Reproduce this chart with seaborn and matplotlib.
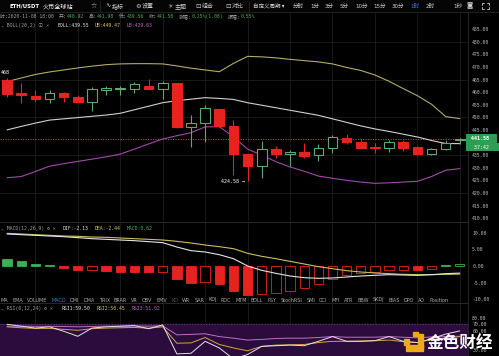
"""
ETH/USDT 1h candlestick screenshot with BOLL, MACD and RSI panels
"""

import numpy as np
import pandas as pd
import matplotlib
matplotlib.use('Agg')
import matplotlib.pyplot as plt
from matplotlib.patches import Rectangle
from matplotlib.transforms import blended_transform_factory
import seaborn as sns

# ---- data ----
opens = [464.8, 459.5, 458.6, 457.1, 459.5, 458.1, 456.1, 461.0, 461.3, 461.4, 462.5,
         461.1, 463.5, 446.3, 447.6, 453.3, 446.7, 435.3, 430.7, 437.3, 435.3, 436.3,
         435.0, 437.7, 441.7, 440.1, 438.3, 437.7, 440.3, 438.1, 435.3, 437.3, 440.92]
highs = [465.5, 463.5, 460.8, 460.8, 460.2, 459.0, 462.1, 462.5, 462.4, 464.1, 465.2,
         464.6, 463.5, 450.9, 454.9, 453.5, 448.9, 435.5, 440.5, 438.5, 437.0, 440.0,
         439.5, 443.0, 443.5, 441.2, 439.7, 440.9, 440.9, 438.6, 438.0, 440.9, 441.98]
lows = [458.2, 455.5, 456.2, 455.8, 456.0, 456.0, 452.5, 458.8, 458.8, 459.5, 461.2,
        457.4, 445.8, 438.3, 440.3, 446.0, 427.1, 424.58, 426.0, 433.7, 430.7, 434.0,
        432.5, 435.7, 439.6, 437.7, 435.7, 436.3, 436.8, 435.0, 435.0, 437.0, 439.56]
closes = [459.2, 458.8, 457.4, 459.8, 457.9, 456.1, 461.4, 461.6, 461.7, 463.2, 461.2,
          463.5, 446.3, 447.6, 453.6, 446.5, 435.3, 430.7, 437.3, 435.3, 436.3, 434.6,
          437.9, 442.0, 440.3, 437.7, 437.9, 440.3, 437.7, 435.3, 437.4, 439.9, 441.58]

boll_up = [464.2, 465.6, 467.0, 468.0, 468.8, 469.6, 470.3, 470.9, 471.2, 471.3, 471.3,
           471.2, 470.4, 469.5, 468.8, 468.1, 471.4, 474.2, 474.0, 473.6, 473.0, 472.5,
           472.0, 471.2, 469.8, 468.6, 466.8, 464.3, 461.4, 458.6, 455.2, 450.3, 449.47]
boll_mid = [445.0, 446.4, 447.7, 448.9, 449.4, 449.9, 450.4, 450.9, 451.6, 453.0, 454.4,
            455.8, 456.6, 457.2, 457.8, 457.5, 457.1, 455.8, 454.8, 453.8, 452.8, 451.8,
            450.8, 449.4, 448.0, 446.6, 445.4, 444.4, 443.3, 442.2, 440.8, 439.6, 439.55]
boll_low = [426.0, 426.5, 428.5, 430.6, 431.6, 432.5, 433.4, 434.3, 435.4, 437.4, 439.4,
            441.4, 442.7, 443.9, 446.2, 446.3, 442.3, 437.4, 435.0, 432.4, 430.3, 428.6,
            426.7, 425.8, 425.0, 424.3, 423.8, 424.0, 424.3, 424.6, 426.5, 429.0, 429.63]

dif = [9.6, 9.4, 9.2, 9.0, 8.8, 8.5, 8.2, 8.0, 7.8, 7.6, 7.3, 7.0, 5.7, 4.6, 4.2, 3.4,
       2.2, 0.0, -1.3, -2.2, -3.0, -3.5, -3.7, -3.6, -3.3, -3.0, -2.8, -2.6, -2.7, -2.8,
       -2.6, -2.3, -2.13]
dea = [9.8, 9.6, 9.4, 9.2, 9.0, 8.9, 8.7, 8.6, 8.4, 8.2, 8.0, 7.8, 7.4, 6.9, 6.3, 5.8,
       5.2, 3.8, 2.9, 2.2, 1.4, 0.6, -0.2, -0.8, -1.4, -1.8, -2.1, -2.3, -2.5, -2.6,
       -2.6, -2.5, -2.44]
macd_hist = [2.1, 1.4, 0.7, 0.3, -0.5, -1.2, -1.2, -1.4, -1.7, -1.7, -1.9, -1.7, -4.0,
             -5.2, -4.9, -5.5, -7.4, -8.7, -8.4, -8.0, -7.4, -6.7, -5.4, -4.0, -2.7,
             -2.0, -1.7, -1.2, -1.2, -1.2, -1.0, 0.2, 0.62]
macd_hollow = [0, 0, 0, 0, 0, 0, 1, 0, 0, 0, 0, 1, 0, 0, 1, 0, 0, 0, 1, 1, 1, 1, 1, 1,
               1, 1, 1, 1, 1, 0, 1, 0, 1]

rsi1 = [70, 67, 64, 66, 59, 51, 64, 66, 67, 68, 63, 69, 23, 24, 43, 32.5, 15, 22, 35,
        36, 37, 36, 43, 50.5, 43, 43, 44, 50.5, 43, 41, 47, 54.5, 59.50]
rsi2 = [66, 64.5, 63.5, 63.5, 62, 60.5, 63, 64, 64.5, 65, 63.8, 66, 40, 40.5, 49, 38,
        32.5, 28, 35, 37, 37.5, 38, 41, 43, 43, 43.5, 44, 45, 42.5, 41, 46, 48, 50.45]
rsi3 = [67, 67, 66.8, 66.8, 66.5, 66, 66.5, 67, 67, 67.3, 67, 67.5, 53.3, 54, 55, 50.5,
        48, 45, 46, 47.5, 48, 48, 49, 50.5, 49.5, 49.5, 49.5, 50.5, 49.5, 48.5, 50,
        50.5, 51.02]

price_ticks = [410, 415, 420, 425, 430, 435, 440, 445, 450, 455, 460, 465, 470, 475, 480, 485]
macd_ticks = [-10, -5, 0, 5, 10]
rsi_ticks = [30, 60, 70, 80]   # 50 / 40 sit under the watermark

tabs = ['MA', 'EMA', 'VOLUME', 'MACD', 'DMI', 'DMA', 'TRIX', 'BRAR', 'VR', 'OBV', 'EMV',
        'KD', 'WR', 'SAR', 'KDJ', 'ROC', 'MTM', 'BOLL', 'PSY', 'StochRSI', 'SMI', 'CCI',
        'MFI', 'ATR', 'BBW', 'SKDJ', 'BIAS', 'DPO', 'AO', 'Position']
periods = ['分时', '1分', '3分', '5分', '10分', '15分', '30分', '1时', '2时']

# ---- colours ----
BG = '#000000'
RED = '#e8231f'
GREEN = '#5fa873'
GRID = '#1c1c1c'
TXT = '#b8b8b8'
MONO = ['DejaVu Sans Mono', 'Noto Sans CJK SC']

sns.set_style('dark', {'axes.facecolor': BG, 'figure.facecolor': BG})
plt.rcParams['font.family'] = ['DejaVu Sans', 'Noto Sans CJK SC']

W, H = 499, 356
fig = plt.figure(figsize=(W / 100, H / 100), dpi=100)


def px_axes(x0, y0, x1, y1):
    return fig.add_axes([x0 / W, 1 - y1 / H, (x1 - x0) / W, (y1 - y0) / H])


ax_p = px_axes(0, 12, 468, 221)
ax_m = px_axes(0, 222, 468, 303)
ax_r = px_axes(0, 303, 468, 356)

idx = np.arange(len(opens))
df = pd.DataFrame({'o': opens, 'h': highs, 'l': lows, 'c': closes})
up = df['c'] >= df['o']

for ax, ticks, lim in ((ax_p, price_ticks, (408.85, 491.8)),
                       (ax_m, macd_ticks, (-11.1, 13.2)),
                       (ax_r, rsi_ticks, (19.7, 103.8))):
    ax.set_facecolor(BG)
    ax.set_xlim(-0.5, 32.58)
    ax.set_ylim(*lim)
    ax.set_xticks([])
    ax.yaxis.tick_right()
    ax.set_yticks(ticks)
    ax.set_yticklabels([f'{t:.2f}' for t in ticks])
    ax.tick_params(axis='y', length=0, pad=3, labelsize=3.5, labelcolor=TXT)
    for lab in ax.get_yticklabels():
        lab.set_family(MONO)
    ax.grid(False)
    for s in ('left', 'bottom'):
        ax.spines[s].set_visible(False)
    ax.spines['right'].set_color('#2a2a2a')
    ax.spines['right'].set_linewidth(0.6)
    ax.spines['top'].set_color('#2e2e2e')
    ax.spines['top'].set_linewidth(0.6)
    for g in range(2, 33, 3):
        ax.axvline(g, color=GRID, lw=0.6, zorder=0)

for g in (420, 435, 450, 465, 480):
    ax_p.axhline(g, color=GRID, lw=0.6, zorder=0)

# ---- price panel ----
sns.lineplot(x=idx, y=boll_up, ax=ax_p, color='#b3ab68', lw=0.8, zorder=2)
sns.lineplot(x=idx, y=boll_mid, ax=ax_p, color='#d0d0d0', lw=0.8, zorder=2)
sns.lineplot(x=idx, y=boll_low, ax=ax_p, color='#a24aa8', lw=0.8, zorder=2)

wick_col = np.where(up, GREEN, RED)
ax_p.vlines(idx, df['l'], df['h'], colors=wick_col, lw=0.8, zorder=3)
body_lo = np.minimum(df['o'], df['c'])
body_h = np.maximum((df['c'] - df['o']).abs(), 0.35)
ax_p.bar(idx, body_h, bottom=body_lo, width=0.68,
         color=np.where(up, BG, RED), edgecolor=wick_col, lw=0.8, zorder=4)

ax_p.axhline(closes[-1], color='#3c9a50', lw=0.6, ls=(0, (1.5, 1.5)), zorder=1)
ax_p.text(-0.45, 467.9, '468', color='white', fontsize=3.6, family=MONO, va='center')
low_i = int(np.argmin(lows))
ax_p.text(low_i - 0.2, lows[low_i], f'{lows[low_i]:.2f} →', color='white',
          fontsize=3.6, family=MONO, ha='right', va='center')

trans = blended_transform_factory(ax_p.transAxes, ax_p.transData)
ax_p.text(1.0, closes[-1], f' {closes[-1]:.2f}  ', transform=trans, color='white',
          fontsize=3.6, family=MONO, fontweight='bold', va='center', ha='left',
          bbox=dict(fc='#2f9e55', ec='none', pad=1.2), zorder=10, clip_on=False)
ax_p.annotate('  37:42   ', xy=(1.0, closes[-1]), xycoords=trans, xytext=(0, -8.5),
              textcoords='offset pixels', color='white', fontsize=3.6, family=MONO,
              va='center', ha='left', bbox=dict(fc='#2f9e55', ec='none', pad=1.2),
              zorder=10, annotation_clip=False)

# ---- MACD panel ----
hist = np.array(macd_hist)
hollow = np.array(macd_hollow, dtype=bool)
hcol = np.where(hist >= 0, '#37b356', RED)
ax_m.bar(idx, hist, width=0.66, color=np.where(hollow, BG, hcol),
         edgecolor=hcol, lw=0.6, zorder=3)
sns.lineplot(x=idx, y=dea, ax=ax_m, color='#cdbd5c', lw=0.8, zorder=4)
sns.lineplot(x=idx, y=dif, ax=ax_m, color='#e4e4e4', lw=0.8, zorder=4)

# ---- RSI panel ----
ax_r.axhspan(19.7, 70, color='#2b0c3d', zorder=0)
ax_r.axhline(70, color='#6d5078', lw=0.5, ls=(0, (2, 2)), zorder=1)
sns.lineplot(x=idx, y=rsi3, ax=ax_r, color='#c06fc8', lw=0.7, zorder=3)
sns.lineplot(x=idx, y=rsi2, ax=ax_r, color='#d9a23f', lw=0.7, zorder=3)
sns.lineplot(x=idx, y=rsi1, ax=ax_r, color='#e2e2e2', lw=0.7, zorder=3)

# ---- overlay: toolbar, legends, tabs, watermark ----
ov = fig.add_axes([0, 0, 1, 1], zorder=20)
ov.set_xlim(0, W)
ov.set_ylim(H, 0)
ov.axis('off')
ov.patch.set_visible(False)
renderer = fig.canvas.get_renderer()


def put(x, y, s, color, size=3.5, family=MONO, **kw):
    t = ov.text(x, y, s, color=color, fontsize=size, family=family, va='center', **kw)
    return x + t.get_window_extent(renderer).width


ov.add_patch(Rectangle((0, 0), W, 12, color='#050505', zorder=0))
ov.plot([0, W], [12, 12], color='#262626', lw=0.6)
for sx in (100, 249):
    ov.plot([sx, sx], [1, 11], color='#262626', lw=0.6)

x = put(10, 6, 'ETH/USDT', 'white', 3.9, ['DejaVu Sans'], fontweight='bold')
put(x + 2.5, 6, '火币全球站', 'white', 4.4, ['Noto Sans CJK SC'])
put(91, 6, '☆', '#cfcfcf', 5, ['DejaVu Sans'])
for ix, icon, name in ((105, '∿', '指标'), (135, '⚙', '设置'), (167, '☼', '主题'),
                       (195, '⊡', '组合'), (225, '⊡', '对比')):
    x = put(ix, 6, icon, '#cfcfcf', 4.6, ['DejaVu Sans'])
    put(x + 1.5, 6, name, '#cfcfcf', 4.3, ['Noto Sans CJK SC'])
put(253, 6, '自定义周期 ▾', '#cfcfcf', 4.0, ['Noto Sans CJK SC', 'DejaVu Sans'])
px = 293
for p in periods:
    col = '#3b7ddd' if p == '1时' else '#cfcfcf'
    px = put(px, 6, p, col, 4.0, ['DejaVu Sans', 'Noto Sans CJK SC']) + 6
put(453, 6, '1秒', '#cfcfcf', 4.0, ['DejaVu Sans', 'Noto Sans CJK SC'])
put(466, 6, '◙', '#cfcfcf', 4.6, ['DejaVu Sans'])
# full-screen icon: four corner brackets
for cx, cy, dx, dy in ((482, 3, 1, 1), (489, 3, -1, 1), (482, 9, 1, -1), (489, 9, -1, -1)):
    ov.plot([cx + 2 * dx, cx, cx], [cy, cy, cy + 2 * dy], color='#cfcfcf', lw=0.6)

# info row
x = put(0, 16.5, '时:2020-11-08 18:00', '#a0a0a0')
for lab, val in (('开:', opens[-1]), ('高:', highs[-1]), ('低:', lows[-1]),
                 ('收:', closes[-1])):
    x = put(x + 5, 16.5, lab, '#a0a0a0')
    x = put(x, 16.5, f'{val:.2f}', '#3fae5c')
x = put(x + 5, 16.5, '涨幅:', '#a0a0a0')
x = put(x, 16.5, '0.25%(1.08)', '#3fae5c')
x = put(x + 5, 16.5, '振幅:', '#a0a0a0')
put(x, 16.5, '0.55%', '#3fae5c')

# BOLL legend
put(1, 25.5, '⌄ BOLL(20,2) ⓘ ✕', '#9a9a9a')
x = put(58, 25.5, f'BOLL:{boll_mid[-1]:.2f}', '#e0e0e0')
x = put(x + 5, 25.5, f'UB:{boll_up[-1]:.2f}', '#d6cc62')
put(x + 6, 25.5, f'LB:{boll_low[-1]:.2f}', '#c062c8')

# MACD legend
put(1, 228.5, '⌄ MACD(12,26,9) ⚙ ✕', '#9a9a9a')
x = put(63, 228.5, f'DIF:{dif[-1]:.2f}', '#e0e0e0')
x = put(x + 6, 228.5, f'DEA:{dea[-1]:.2f}', '#d6cc62')
put(x + 6, 228.5, f'MACD:{macd_hist[-1]:.2f}', '#3fae5c')

# indicator tabs
x = 0.5
for t in tabs:
    col = '#3b7ddd' if t == 'MACD' else ('#555555' if t == 'KD' else '#b0b0b0')
    x = put(x, 300, t, col, 3.5, ['DejaVu Sans']) + 4.0

# RSI legend
put(1, 308.5, '⌄ RSI(6,12,24) ⚙ ✕', '#9a9a9a')
x = put(62, 308.5, f'RSI1:{rsi1[-1]:.2f}', '#e0e0e0')
x = put(x + 6, 308.5, f'RSI2:{rsi2[-1]:.2f}', '#d6cc62')
put(x + 6, 308.5, f'RSI3:{rsi3[-1]:.2f}', '#c062c8')

# watermark
for r in ((413, 332, 5, 4), (418, 334, 5, 14), (406, 345, 17, 6), (404, 338.5, 5, 6)):
    ov.add_patch(Rectangle(r[:2], r[2], r[3], color='#f0a81c', zorder=5))
ov.text(427, 343, '金色财经', color='white', fontsize=12, fontweight='bold',
        family=['Noto Sans CJK SC'], va='center', ha='left', zorder=6)

fig.savefig('out.png', dpi=100, facecolor=BG)
